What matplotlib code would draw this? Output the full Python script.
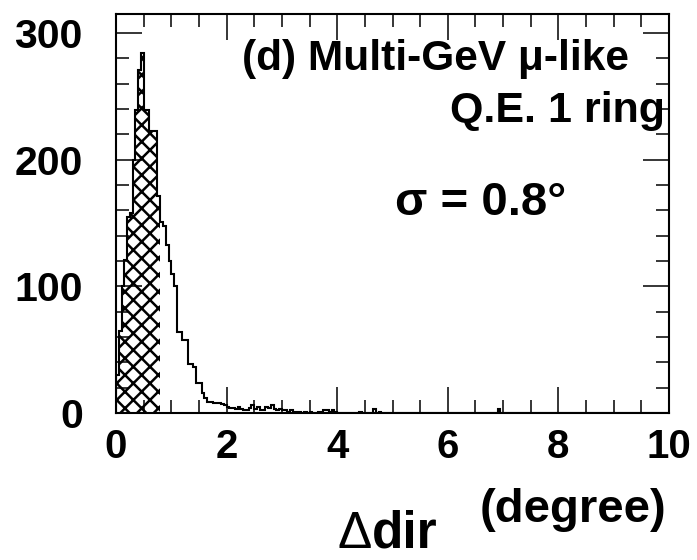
import numpy as np
import matplotlib
matplotlib.use('Agg')
import matplotlib.pyplot as plt
from matplotlib.ticker import MultipleLocator

plt.rcParams['font.family'] = ['Liberation Sans', 'DejaVu Sans']
plt.rcParams['font.weight'] = 'bold'
plt.rcParams['hatch.linewidth'] = 1.8

# histogram of delta-dir, 0.05 degree bins
bin_width = 0.05
counts_low = [30, 65, 100, 121, 155, 158, 200, 239, 271, 284,
              239, 239, 223, 223, 223, 171, 151, 148, 133, 120,
              110, 100, 64, 64, 58, 58, 39, 39, 36, 24,
              24, 16, 12, 9, 9, 8, 8, 8, 7, 6,
              5, 4, 4, 3, 5, 3, 2, 2, 4, 6,
              3, 5, 2, 2, 5, 4, 6, 3, 2, 3,
              2, 2, 1, 2, 1, 1, 1, 0, 1, 0,
              1, 0, 0, 1, 0, 2, 2, 1, 2, 1]
tail_pos = [4.40, 4.65, 4.75, 6.90]
tail_counts = [1, 3, 1, 3]
hatch_end = 0.8

edges = np.round(np.arange(0, 10 + bin_width / 2, bin_width), 3)
counts = np.zeros(len(edges) - 1)
counts[:len(counts_low)] = counts_low
for p, c in zip(tail_pos, tail_counts):
    counts[int(round(p / bin_width))] = c

W, H = 697, 560
fig = plt.figure(figsize=(W / 100, H / 100), dpi=100)
ax = fig.add_axes([116 / W, 1 - 413 / H, (669 - 116) / W, (413 - 14) / H])

nh = int(round(hatch_end / bin_width))
ax.stairs(counts[:nh], edges[:nh + 1], fill=True, hatch='xx',
          facecolor='white', edgecolor='black', linewidth=0)
ax.stairs(counts, edges, color='black', linewidth=1.5)

ax.set_xlim(0, 10)
ax.set_ylim(0, 315)
ax.xaxis.set_major_locator(MultipleLocator(2))
ax.xaxis.set_minor_locator(MultipleLocator(0.5))
ax.yaxis.set_major_locator(MultipleLocator(100))
ax.yaxis.set_minor_locator(MultipleLocator(20))
ax.tick_params(which='both', direction='in', top=True, right=True, width=1.1)
ax.tick_params(which='major', length=19)
ax.tick_params(which='minor', length=9.5)
ax.tick_params(axis='x', which='major', labelsize=29, pad=11)
ax.tick_params(axis='y', which='major', labelsize=29.5, pad=24)
for s in ax.spines.values():
    s.set_linewidth(1.5)

def px(x, y):
    return x / W, 1 - y / H

fig.text(*px(242, 70), '(d) Multi-GeV \u03bc-like', fontsize=30.5,
         ha='left', va='baseline')
fig.text(*px(665, 122), 'Q.E. 1 ring', fontsize=31,
         ha='right', va='baseline')
fig.text(*px(395, 215), '\u03c3 = 0.8\u00b0', fontsize=34,
         ha='left', va='baseline')
fig.text(*px(372, 548), '\u0394', fontsize=37, fontweight='normal',
         ha='right', va='baseline')
fig.text(*px(372, 548), 'dir', fontsize=37, ha='left', va='baseline')
fig.text(*px(573, 522), '(degree)', fontsize=34, ha='center', va='baseline')

fig.savefig('out.png', dpi=100)
